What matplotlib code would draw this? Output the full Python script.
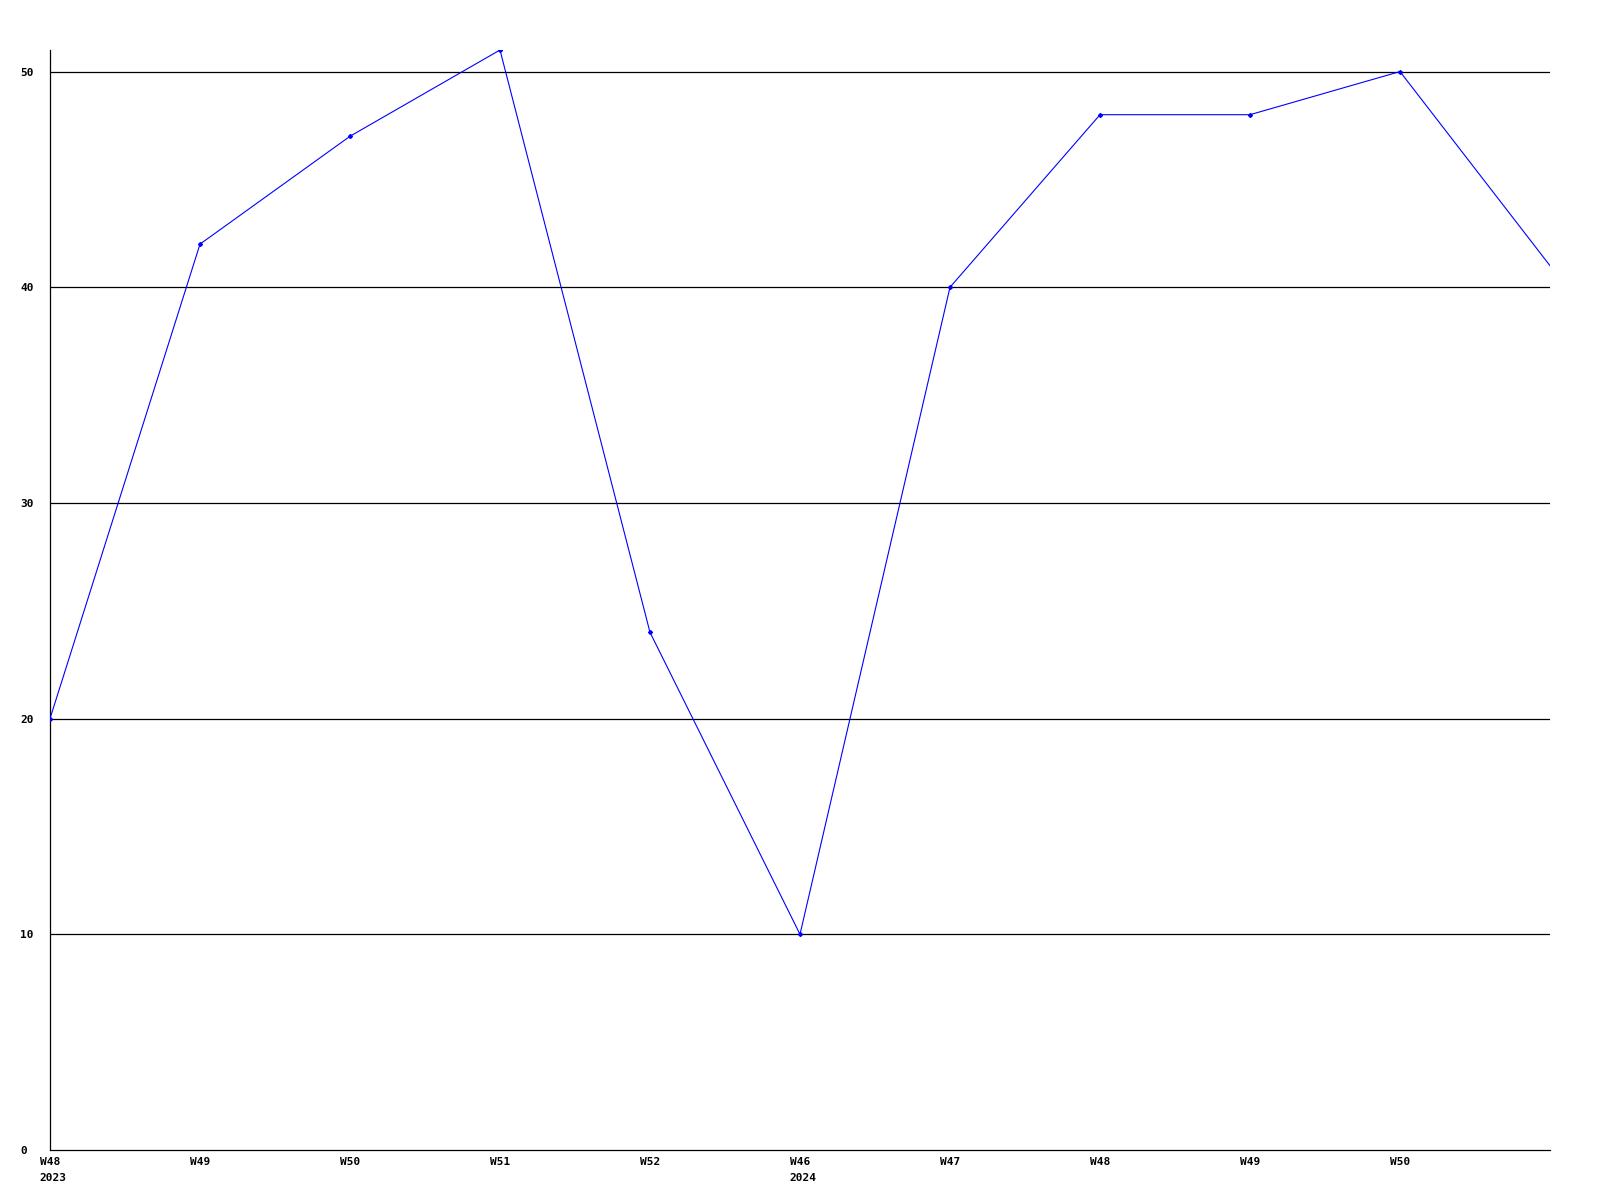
"""Weekly count, W48 2023 through W50 2024."""

import matplotlib

matplotlib.use("Agg")
import matplotlib.pyplot as plt

weeks = ["W48", "W49", "W50", "W51", "W52", "W46", "W47", "W48", "W49", "W50"]
years = {0: "2023", 5: "2024"}
values = [20, 42, 47, 51, 24, 10, 40, 48, 48, 50, 41]

fig = plt.figure(figsize=(16, 12), dpi=100)
ax = fig.add_axes([50 / 1600, 50 / 1200, 1500 / 1600, 1100 / 1200])

x = list(range(len(values)))
ax.plot(x, values, color="#0000ff", linewidth=0.8, zorder=3)
ax.plot(x[:-1], values[:-1], linestyle="none", marker="D", markersize=2,
        color="#0000ff", zorder=4)

ax.set_xlim(0, len(values) - 1)
ax.set_ylim(0, 51)
ax.set_yticks([0, 10, 20, 30, 40, 50])
ax.set_xticks(range(len(weeks)))
ax.set_xticklabels(weeks)

for y in [10, 20, 30, 40, 50]:
    ax.axhline(y, color="black", linewidth=0.9, zorder=2)

font = dict(family="DejaVu Sans Mono", weight="bold", size=8)
ax.tick_params(length=0)
for lab in ax.get_xticklabels() + ax.get_yticklabels():
    lab.set_fontproperties(font)
for lab in ax.get_yticklabels():
    lab.set_horizontalalignment("left")
ax.tick_params(axis="x", pad=5)
ax.tick_params(axis="y", pad=21.5)

trans = ax.get_xaxis_transform()
for i, yr in years.items():
    ax.text(i - 0.07, -0.0205, yr, transform=trans, ha="left", va="top", **font)

for side in ["top", "right"]:
    ax.spines[side].set_visible(False)
for side in ["left", "bottom"]:
    ax.spines[side].set_color("black")
    ax.spines[side].set_linewidth(0.9)

fig.savefig("out.png", dpi=100)
plt.close(fig)
